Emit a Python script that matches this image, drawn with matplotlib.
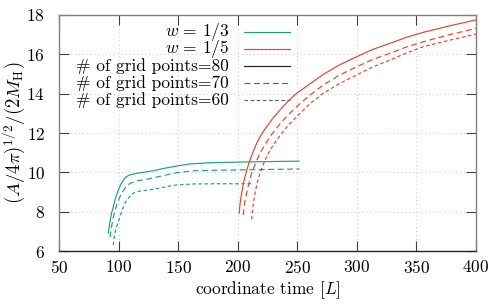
import matplotlib
matplotlib.use("Agg")
import matplotlib.pyplot as plt
from matplotlib.lines import Line2D

plt.rcParams['font.family'] = 'serif'
plt.rcParams['font.serif'] = ['cmr10', 'DejaVu Serif']
plt.rcParams['mathtext.fontset'] = 'cm'
plt.rcParams['axes.formatter.use_mathtext'] = True

GREEN = '#1fa07a'
RED = '#e8412e'

# w = 1/3 runs
g80_t = [91.4, 92.5, 94.0, 95.6, 97.5, 99.8, 102.0, 104.0, 106.5, 109.6, 115.2, 122.0, 129.2, 138.0, 148.8, 160.0, 175.0, 190.8, 210.0, 230.0, 251.5]
g80_r = [6.90, 7.40, 7.90, 8.25, 8.70, 9.10, 9.40, 9.61, 9.78, 9.87, 9.95, 10.01, 10.08, 10.20, 10.32, 10.43, 10.48, 10.51, 10.53, 10.55, 10.57]
g70_t = [92.8, 94.0, 95.5, 97.0, 99.0, 100.8, 102.6, 105.5, 109.6, 116.0, 123.6, 135.0, 148.8, 163.0, 185.0, 210.0, 230.0, 252.0]
g70_r = [6.70, 7.20, 7.70, 8.05, 8.45, 8.72, 8.93, 9.20, 9.44, 9.57, 9.65, 9.80, 9.98, 10.08, 10.11, 10.13, 10.15, 10.17]
g60_t = [95.6, 96.5, 97.8, 99.8, 102.5, 105.4, 108.5, 112.4, 118.0, 129.2, 140.0, 148.8, 163.0, 185.0, 200.0, 213.0]
g60_r = [6.30, 6.80, 7.15, 7.49, 8.00, 8.43, 8.72, 8.94, 9.05, 9.14, 9.27, 9.36, 9.41, 9.42, 9.42, 9.42]

# w = 1/5 runs
r80_t = [201.3, 201.8, 202.5, 203.3, 204.6, 206.1, 208.0, 210.3, 213.0, 215.9, 219.8, 224.3, 229.5, 235.5, 242.0, 249.5, 260.7, 271.8, 285.0, 299.9, 313.0, 327.8, 341.0, 355.8, 378.0, 400.0]
r80_r = [7.92, 8.30, 8.65, 8.94, 9.38, 9.78, 10.20, 10.63, 11.05, 11.48, 11.92, 12.32, 12.75, 13.17, 13.60, 14.02, 14.50, 14.98, 15.45, 15.88, 16.24, 16.56, 16.85, 17.12, 17.45, 17.75]
r70_t = [204.7, 205.3, 206.3, 207.5, 209.4, 211.7, 215.0, 218.7, 222.8, 227.1, 232.5, 238.3, 244.5, 250.9, 260.7, 271.8, 285.0, 299.9, 313.0, 327.8, 341.0, 355.8, 378.0, 400.0]
r70_r = [7.83, 8.25, 8.60, 8.94, 9.45, 9.95, 10.48, 10.97, 11.40, 11.81, 12.25, 12.66, 13.05, 13.42, 13.93, 14.44, 14.93, 15.37, 15.73, 16.05, 16.36, 16.64, 17.00, 17.32]
r60_t = [211.7, 212.4, 213.3, 214.5, 216.4, 218.7, 221.3, 224.3, 228.2, 232.7, 238.0, 243.9, 253.7, 260.7, 271.8, 285.0, 299.9, 313.0, 327.8, 341.0, 355.8, 378.0, 400.0]
r60_r = [7.61, 8.05, 8.50, 8.94, 9.48, 9.95, 10.38, 10.80, 11.23, 11.64, 12.07, 12.49, 13.08, 13.50, 14.02, 14.50, 14.95, 15.35, 15.71, 16.05, 16.39, 16.72, 17.03]

styles = {80: '-', 70: (0, (5, 3)), 60: (0, (3, 2.2))}

fig = plt.figure(figsize=(5.03, 3.04), dpi=100)
ax = fig.add_axes([0.1173, 0.1743, 0.829, 0.7764])

lw = 0.85
ax.plot(g80_t, g80_r, color=GREEN, lw=lw, linestyle=styles[80])
ax.plot(g70_t, g70_r, color=GREEN, lw=lw, linestyle=styles[70])
ax.plot(g60_t, g60_r, color=GREEN, lw=lw, linestyle=styles[60])
ax.plot(r80_t, r80_r, color=RED, lw=lw, linestyle=styles[80])
ax.plot(r70_t, r70_r, color=RED, lw=lw, linestyle=styles[70])
ax.plot(r60_t, r60_r, color=RED, lw=lw, linestyle=styles[60])

ax.set_xlim(50, 400)
ax.set_ylim(6, 18)
ax.set_xticks(range(50, 401, 50))
ax.set_yticks(range(6, 19, 2))
ax.grid(True, color='#c8c8c8', linestyle=(0, (1, 3)), linewidth=0.7)
ax.tick_params(direction='in', length=7, width=0.8, top=True, right=True,
               color='#404040', labelsize=12.5)
ax.tick_params(axis='x', pad=6)
ax.tick_params(axis='y', pad=10)
for side in ['top', 'right', 'left']:
    ax.spines[side].set_color('#808080')
ax.spines['bottom'].set_color('#202020')
for s in ax.spines.values():
    s.set_linewidth(1.0)

ax.set_xlabel(r'coordinate time [$L$]', fontsize=12.5, labelpad=2)
ax.set_ylabel(r'$(A/4\pi)^{1/2}/(2M_{\rm H})$', fontsize=13.5)
ax.yaxis.set_label_coords(-0.075, 0.5)

# legend drawn in gnuplot style: right-aligned labels, sample line on the right
entries = [
    (r'$w\,=\,1/3$', GREEN, styles[80]),
    (r'$w\,=\,1/5$', RED, styles[80]),
    (r'# of grid points=80', '#202020', styles[80]),
    (r'# of grid points=70', '#606060', styles[70]),
    (r'# of grid points=60', '#606060', styles[60]),
]
x_text = (229 - 59) / 417.0
x0 = (244 - 59) / 417.0
x1 = (290 - 59) / 417.0
for i, (label, col, ls) in enumerate(entries):
    y = 1 - (32.3 + 17 * i - 15) / 236.0
    ax.text(x_text, y, label, transform=ax.transAxes, ha='right', va='center', fontsize=12.5)
    ax.add_line(Line2D([x0, x1], [y, y], transform=ax.transAxes, color=col, lw=lw, linestyle=ls))

fig.savefig('out.png', dpi=100)
